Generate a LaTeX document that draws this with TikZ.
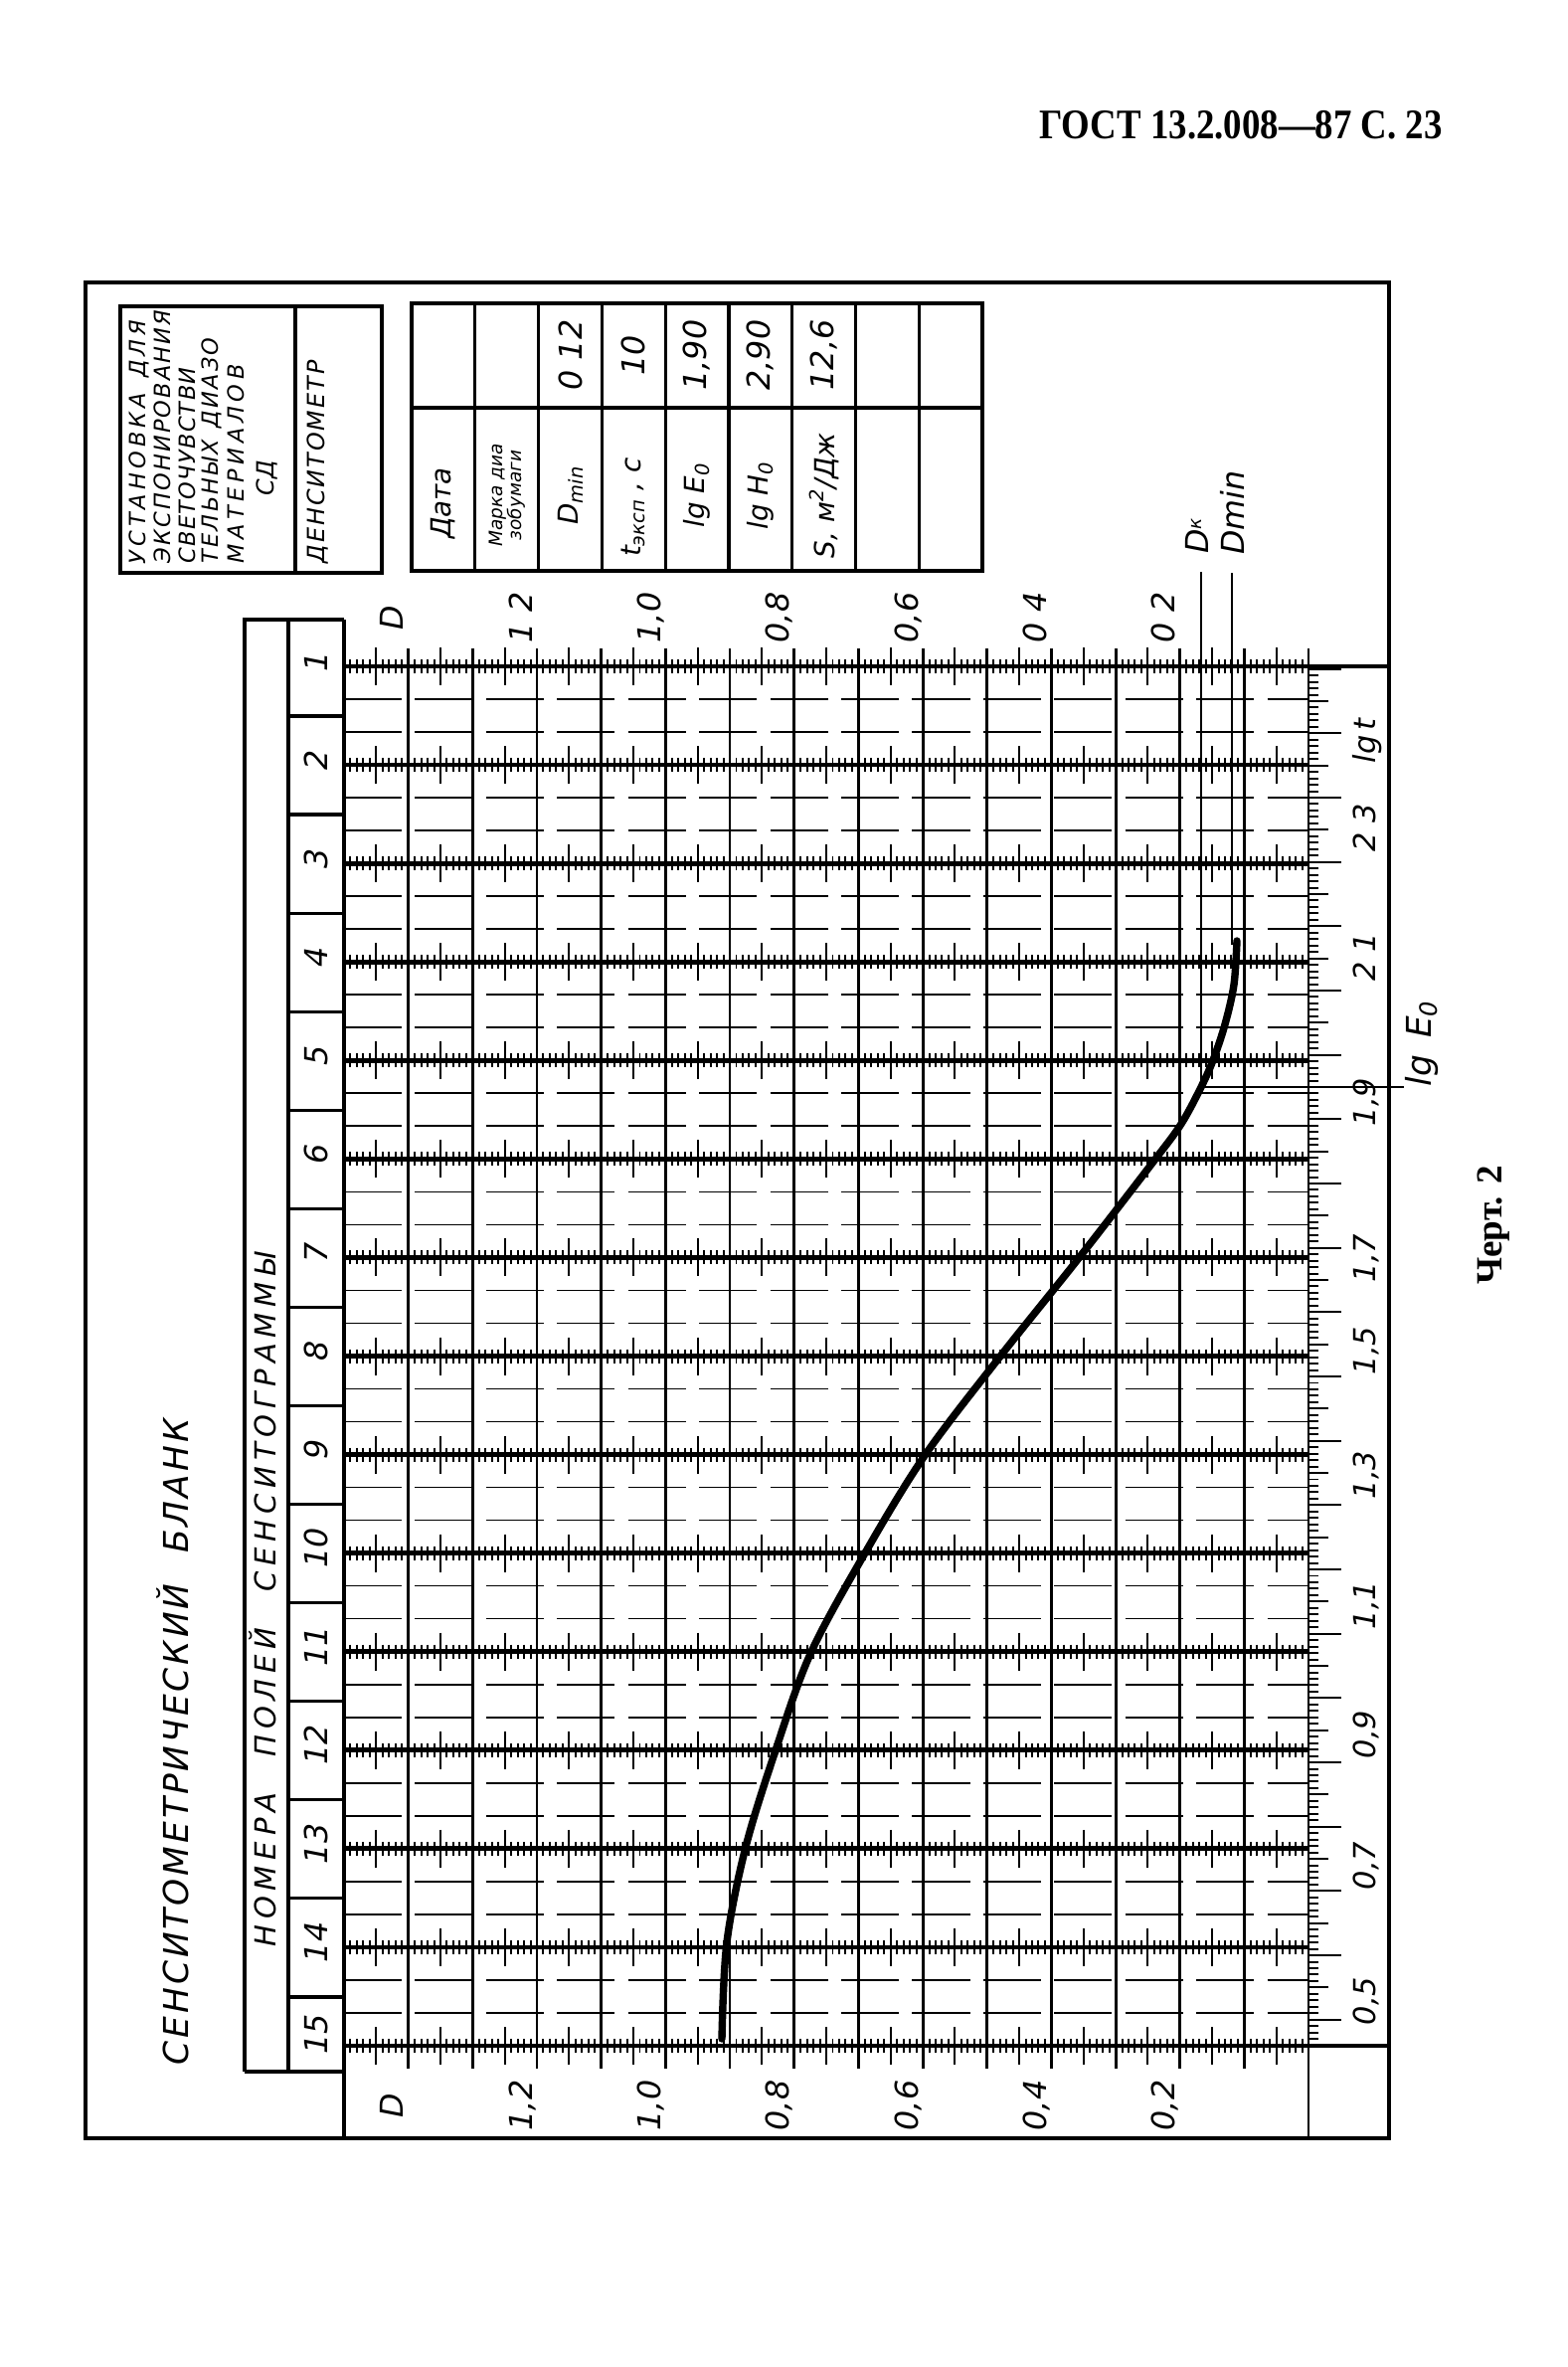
\documentclass[tikz,border=0pt]{standalone}
\usepackage{graphicx}
\usepackage{fontspec}
\setmainfont{DejaVu Sans}
\newfontfamily\headfont{Liberation Serif}
\usetikzlibrary{positioning}

\newdimen\pxu
\pxu=0.378pt
% letters spread evenly over a length given in px
\def\sprchar#1{\ifx\relax#1\unskip\else#1\hfill\expandafter\sprchar\fi}
\newcommand\spreadto[2]{\hbox to #1\pxu{\sprchar#2\relax}}

\begin{document}
\begin{tikzpicture}[x=0.378pt, y=-0.378pt,
  frameline/.style={line width=1.4pt},
  boxline/.style={line width=1.2pt},
  colline/.style={line width=1.1pt},
  rowline/.style={line width=1.8pt},
  thinline/.style={line width=0.6pt, dash pattern=on 22pt off 5pt},
  tickmark/.style={line width=0.75pt},
  curveline/.style={line width=2.8pt, line cap=round},
  gost/.style={inner sep=0pt, rotate=90, font=\itshape\fontsize{#1}{#1}\selectfont}]
\useasboundingbox (0,0) rectangle (1576,2380);

% page head
\node[inner sep=0pt, anchor=base, font=\headfont\bfseries\fontsize{16}{18}\selectfont] (head) at (1248,140)
  {\scalebox{0.87}[1]{ГОСТ 13.2.008—87 С. 23}};
\node[inner sep=0pt, rotate=90, anchor=base, font=\headfont\bfseries\fontsize{14}{16}\selectfont] (fig) at (1510,1232) {Черт. 2};

% frame
\draw[frameline] (86,284) rectangle (1397,2150);

% device box
\draw[boxline] (121,308) rectangle (384,576);
\draw[boxline] (297,308) -- (297,576);
\node[gost=8.5, anchor=base west] (set1) at (146,568) {\spreadto{246}{У С Т А Н О В К А ~ Д Л Я}};
\node[gost=8.5, anchor=base west] (set2) at (171,567) {\spreadto{255}{Э К С П О Н И Р О В А Н И Я}};
\node[gost=8.5, anchor=base west] (set3) at (196,567) {\spreadto{197}{С В Е Т О Ч У В С Т В И}};
\node[gost=8.5, anchor=base west] (set4) at (219,567) {\spreadto{227}{Т Е Л Ь Н Ы Х ~ Д И А З О}};
\node[gost=8.5, anchor=base west] (set5) at (245,567) {\spreadto{200}{М А Т Е Р И А Л О В}};
\node[gost=9, anchor=base] (set6) at (275,481) {СД};
\node[gost=9, anchor=base west] (dens) at (326,567) {\spreadto{204}{Д Е Н С И Т О М Е Т Р}};

% data table
\draw[boxline] (414,305) rectangle (988,574);
\draw[boxline] (414,410) -- (988,410);
\foreach \j in {1,...,8}
  \draw[boxline] ({414+63.8*\j},305) -- ++(0,269);
\node[gost=10.5] (date) at (446,506) {Дата};
\node[gost=7, align=center] (paper) at (510,498) {Марка диа\\зобумаги};
\node[gost=10.5] (dmin) at (574,498) {D\textsubscript{min}};
\node[gost=10.5] (texp) at (637,510) {t\textsubscript{эксп} , с};
\node[gost=10.5] (lge) at (701,498) {lg E\textsubscript{0}};
\node[gost=10.5] (lgh) at (765,498) {lg H\textsubscript{0}};
\node[gost=10.5] (sens) at (829,498) {S, м\textsuperscript{2}/Дж};
\node[gost=12] (vdmin) at (574,357) {0 12};
\node[gost=12] (vtexp) at (637,357) {10};
\node[gost=12] (vlge) at (701,357) {1,90};
\node[gost=12] (vlgh) at (765,357) {2,90};
\node[gost=12] (vsens) at (829,357) {12,6};

% field numbers
\draw[boxline] (246,2083) -- (246,623) -- (346,623);
\draw[boxline] (246,2083) -- (346,2083);
\draw[boxline] (290,623) -- (290,2083);
\draw[boxline] (346,623) -- (346,2150);
\foreach \i in {1,...,14}
  \draw[boxline] (290,{720+99.07*(\i-1)}) -- (346,{720+99.07*(\i-1)});
\foreach \i in {1,...,14}
  \node[gost=12] (num\i) at (318,{665+99.07*(\i-1)}) {\i};
\node[gost=12] (num15) at (318,2045) {15};
\node[gost=13, anchor=base west] (form) at (189,2077)
  {\spreadto{650}{С Е Н С И Т О М Е Т Р И Ч Е С К И Й ~ ~ Б Л А Н К}};
\node[gost=11, anchor=base west] (fields) at (277,1958)
  {\spreadto{698}{Н О М Е Р А ~ ~ П О Л Е Й ~ ~ С Е Н С И Т О Г Р А М М Ы}};

% grid
\foreach \k in {1,...,14}
  \draw[colline] ({346+64.67*\k},652) -- ++(0,1428);
\draw[colline] (1316,652) -- (1316,2150);
\foreach \i in {1,...,14}
  \foreach \off in {33,66}
    \draw[thinline] (346,{670+99.07*(\i-1)+\off}) -- (1316,{670+99.07*(\i-1)+\off});
\foreach \i in {1,...,15} {
  \pgfmathsetmacro\yy{670+99.07*(\i-1)}
  \draw[rowline] (346,\yy) -- (1316,\yy);
  \draw[tickmark] foreach \j in {0,...,150} {({346+6.467*\j},\yy-7) -- ++(0,14)};
  \draw[tickmark] foreach \k in {0,...,14} {({378.3+64.67*\k},\yy-19) -- ++(0,38)};
}
\draw[rowline] (1316,670) -- (1397,670);
\draw[rowline] (1316,2057) -- (1397,2057);

% density labels
\foreach \k/\lab in {1/D, 3/1 2, 5/{1,0}, 7/{0,8}, 9/{0,6}, 11/0 4, 13/0 2}
  \node[gost=12, anchor=base] (dtop\k) at ({346+64.67*\k-5},621) {\lab};
\foreach \k/\lab in {1/D, 3/{1,2}, 5/{1,0}, 7/{0,8}, 9/{0,6}, 11/{0,4}, 13/{0,2}}
  \node[gost=12, anchor=base] (dbot\k) at ({346+64.67*\k-5},2117) {\lab};

% lg t scale
\draw[tickmark] foreach \j in {41,...,255} {(1316,{1093+(1.9-\j/100)*646.7}) -- ++(10,0)};
\draw[tickmark] foreach \j in {50,60,...,250} {(1316,{1093+(1.9-\j/100)*646.7}) -- ++(20,0)};
\draw[tickmark] foreach \j in {45,55,...,255} {(1316,{1093+(1.9-\j/100)*646.7}) -- ++(33,0)};
\foreach \y/\lab [count=\n] in {2012/{0,5}, 1876/{0,7}, 1744/{0,9}, 1614/{1,1}, 1483/{1,3},
    1358/{1,5}, 1265/{1,7}, 1108/{1,9}, 962/2 1, 832/2 3}
  \node[gost=11.5, anchor=base] (lgt\n) at (1383,\y) {\lab};
\node[gost=11.5, anchor=base] (lgtname) at (1383,745) {lg\,t};

% Dk, Dmin and lg E0
\coordinate (dk) at (1208,1093);
\draw[colline] (1208,575) -- (dk) -- (1412,1093);
\draw[colline] (1239,576) -- (1239,950);
\node[gost=12, anchor=base west] (dklab) at (1215,557) {D\raisebox{0.35ex}{\scriptsize к}};
\node[gost=12, anchor=base west] (dminlab) at (1251,558) {Dmin};
\node[gost=13, anchor=base west] (lgelab) at (1439,1093) {lg\hspace{0.5em}E\textsubscript{0}};

% characteristic curve
\draw[curveline] plot[smooth, tension=0.55] coordinates {(1244,946) (1241,990) (1232,1030)
  (1220,1066) (1208,1093) (1188,1130) (1160,1168) (1085,1265) (1005,1365) (929,1465)
  (868,1565) (815,1663) (780,1760) (750,1857) (731,1953) (726,2050)};
\end{tikzpicture}
\end{document}
